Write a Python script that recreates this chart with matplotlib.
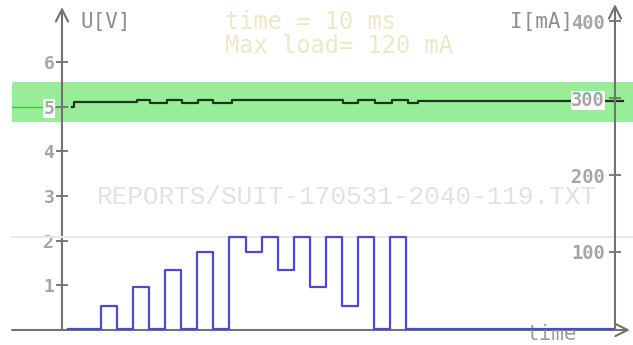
import matplotlib
matplotlib.use("Agg")
import matplotlib.pyplot as plt

# current load profile, step edges in ms and level in mA after each edge
time_ms = [4, 24, 34, 44, 54, 64, 74, 84, 94, 104, 114, 124, 134, 144,
           154, 164, 174, 184, 194, 204, 214, 342]
current_ma = [0, 30, 0, 55, 0, 77, 0, 100, 0, 120, 100, 120, 77, 120,
              55, 120, 30, 120, 0, 120, 0, 0]

# supply voltage measured during the run
volt_time_ms = [6, 7.5, 46.5, 54.5, 65, 74.5, 84.5, 94, 105.5, 174.5,
                184, 194.5, 205, 215, 221, 348.5]
voltage_v = [5.0, 5.11, 5.15, 5.08, 5.15, 5.08, 5.15, 5.08, 5.15, 5.08,
             5.15, 5.08, 5.15, 5.08, 5.12, 5.12]

volt_ticks = [1, 2, 3, 4, 5, 6]
current_ticks = [100, 200, 300, 400]
nominal_v = 5
band_low, band_high = 4.65, 5.55
max_load_ma = 120
report_name = "REPORTS/SUIT-170531-2040-119.TXT"

W, H = 633, 345
AXIS = "#727272"
LABEL = "#a6a6a6"
MONO = "DejaVu Sans Mono"


def px(x, y):
    """pixel position -> figure fraction"""
    return x / W, 1 - y / H


fig = plt.figure(figsize=(W / 100, H / 100), dpi=100)
ax = fig.add_axes([0, 0, 1, 1])
ax.set_xlim(-38.5, 354.7)
ax.set_ylim(-0.336, 7.383)
ax.patch.set_visible(False)
fig.patch.set_facecolor("white")

cur = ax.twinx()
cur.set_ylim(-20.8, 427.3)
cur.patch.set_visible(False)

for a in (ax, cur):
    for s in a.spines.values():
        s.set_color("none")
    a.set_xticks([])

# voltage side
ax.axhspan(band_low, band_high, xmin=12 / W, xmax=1, color="#98ee98", lw=0, zorder=1)
ax.plot([-31, 0], [nominal_v, nominal_v], color="#3cc83c", lw=1, zorder=1.2)
ax.step(volt_time_ms, voltage_v, where="post", color="#1c361c", lw=1.6, zorder=3)

ax.spines["left"].set_position(("data", 0))
ax.yaxis.set_ticks_position("left")
ax.set_yticks(volt_ticks)
ax.tick_params(axis="y", direction="inout", length=9, width=1.3, color=AXIS,
               labelcolor=LABEL, labelsize=13, pad=1)
for lbl in ax.get_yticklabels():
    lbl.set_fontfamily(MONO)
    lbl.set_fontweight("bold")
    lbl.set_bbox(dict(facecolor="white", edgecolor="none", pad=0.3))

arrow = dict(arrowstyle="->", color=AXIS, lw=1.5, mutation_scale=22,
             shrinkA=0, shrinkB=0)
ax.annotate("", xy=(0, 7.226), xytext=(0, 0), arrowprops=arrow, zorder=2.6)
ax.annotate("", xy=(352.8, 0), xytext=(-31, 0), arrowprops=arrow, zorder=2.6)

ax.text(*px(80, 22), "U[V]", transform=ax.transAxes, family=MONO, fontsize=15,
        color="#8e8e8e", va="center", ha="left")
ax.text(*px(510, 22), "I[mA]", transform=ax.transAxes, family=MONO, fontsize=15,
        color="#8e8e8e", va="center", ha="left")
ax.text(*px(225, 22), "time = 10 ms", transform=ax.transAxes, family=MONO,
        fontsize=17, color="#ece8c8", va="center", ha="left")
ax.text(*px(225, 46), f"Max load= {max_load_ma} mA", transform=ax.transAxes,
        family=MONO, fontsize=17, color="#ece8c8", va="center", ha="left")
ax.text(*px(97, 204), report_name, transform=ax.transAxes, family="Liberation Mono",
        fontsize=18.8, color="#e2e2e2", va="baseline", ha="left")
ax.text(*px(527, 334), "time", transform=ax.transAxes, family=MONO, fontsize=15,
        color="#9a9aa8", va="center", ha="left")

# current side
cur.axhline(max_load_ma, xmin=12 / W, xmax=1, color="#e9e9e9", lw=1.5, zorder=1)
cur.step(time_ms, current_ma, where="post", color="#4b4bd2", lw=1.6, zorder=3)

cur.spines["left"].set_position(("data", 343.5))
cur.yaxis.set_ticks_position("left")
cur.set_yticks(current_ticks)
cur.tick_params(axis="y", direction="inout", length=9, width=1.3, color=AXIS,
                labelcolor=LABEL, labelsize=13.5, pad=3, labelleft=True,
                labelright=False)
for lbl in cur.get_yticklabels():
    lbl.set_fontfamily(MONO)
    lbl.set_fontweight("bold")
    lbl.set_bbox(dict(facecolor="white", edgecolor="none", pad=0.0))
cur.annotate("", xy=(343.5, 422), xytext=(343.5, 0), arrowprops=arrow, zorder=2.6)

fig.savefig("out.png", dpi=100, facecolor="white")
